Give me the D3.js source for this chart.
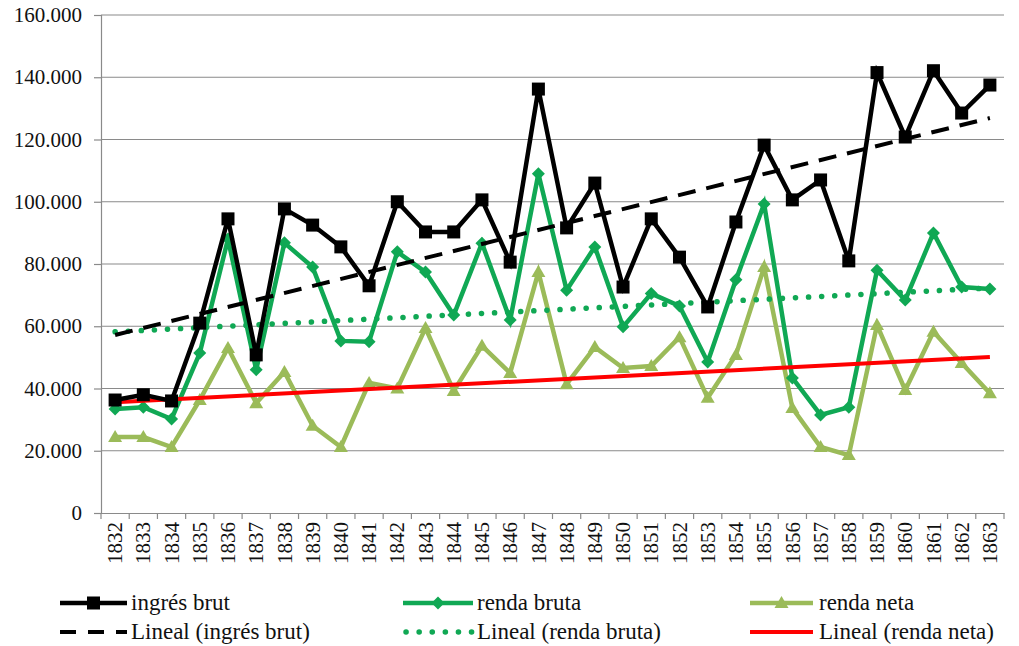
<!DOCTYPE html>
<html><head><meta charset="utf-8">
<script src="https://cdn.jsdelivr.net/npm/d3@7"></script>
<style>body{margin:0;background:#fff}svg{display:block}svg text{font-family:"Liberation Serif","Times New Roman","DejaVu Serif",serif !important;fill:#111}</style>
</head><body>
<svg id="c" width="1019" height="646"></svg>
<script>
const years = [1832,1833,1834,1835,1836,1837,1838,1839,1840,1841,1842,1843,1844,1845,1846,1847,1848,1849,1850,1851,1852,1853,1854,1855,1856,1857,1858,1859,1860,1861,1862,1863];
const ingresBrut = [36300,38000,36000,61000,94500,50800,97700,92500,85500,73000,100000,90300,90300,100600,80600,136200,91600,106000,72600,94500,82200,66200,93500,118200,100600,107000,81000,141500,120800,142100,128500,137500];
const rendaBruta = [33400,34000,30200,51400,88000,46000,86800,79000,55300,55000,83900,77400,63600,86700,62000,109000,71600,85500,59800,70500,66500,48500,74900,99300,43400,31500,34000,78000,68400,90000,72600,72000];
const rendaNeta = [24400,24400,21200,36300,53000,35300,45300,28000,21200,41800,40000,59400,39200,53700,45000,77400,41400,53300,46600,47200,56500,37000,50800,79000,33700,21200,18600,60400,39500,58200,48200,38500];
// Linear trend lines (value at first year, value at last year)
const trendIngres = [57200,126900];
const trendBruta = [58200,72300];
const trendNeta = [35600,50100];
const yTicks = [0,20000,40000,60000,80000,100000,120000,140000,160000];
const legendLabels = ["ingrés brut","renda bruta","renda neta","Lineal (ingrés brut)","Lineal (renda bruta)","Lineal (renda neta)"];

const svg = d3.select("#c");
const L=101, R=1004, T=15, B=513;
const SERIF = '"Liberation Serif","Times New Roman","DejaVu Serif",serif';
const x = d3.scaleBand().domain(years).range([L,R]);
const y = d3.scaleLinear().domain([0,160000]).range([B,T]);
const cx = d => x(d)+x.bandwidth()/2;
const fmt = v => v===0 ? "0" : d3.format(",")(v).replace(/,/g,".");

// gridlines
svg.append("g").selectAll("line").data(yTicks.filter(d=>d>0)).join("line")
  .attr("x1",L).attr("x2",R).attr("y1",d=>y(d)).attr("y2",d=>y(d))
  .attr("stroke","#8a8a8a").attr("stroke-width",1.2);

// y axis
const ya = svg.append("g").attr("transform",`translate(${L},0)`)
  .call(d3.axisLeft(y).tickValues(yTicks).tickFormat(fmt).tickSize(7).tickPadding(12));
ya.attr("font-family",SERIF);
ya.select(".domain").attr("stroke","#8a8a8a").attr("stroke-width",1.2);
ya.selectAll(".tick line").attr("stroke","#8a8a8a").attr("stroke-width",1.2);
ya.selectAll("text").attr("font-family",SERIF).style("font-size","21px").attr("fill","#111");

// x axis
const xa = svg.append("g").attr("transform",`translate(0,${B})`)
  .call(d3.axisBottom(x).tickSize(0).tickPadding(0));
xa.attr("font-family",SERIF);
xa.select(".domain").attr("stroke","#8a8a8a").attr("stroke-width",1.2);
xa.selectAll(".tick text").attr("transform","rotate(-90)").attr("x",-9).attr("y",0).attr("dy","0.34em")
  .style("text-anchor","end").attr("font-family",SERIF).style("font-size","21px").attr("fill","#111");
const bounds = years.map(d=>x(d)).concat([R]);
svg.append("g").selectAll("line").data(bounds).join("line")
  .attr("x1",d=>d).attr("x2",d=>d).attr("y1",B).attr("y2",B+6)
  .attr("stroke","#8a8a8a").attr("stroke-width",1.2);

const line = d3.line().x((d,i)=>cx(years[i])).y(d=>y(d));
const cBlack="#000", cGreen="#10a854", cOlive="#9bbb59", cRed="#ff0000", cDot="#10a854";

function trend(vals,color,dash,cap,w){
  svg.append("line").attr("x1",cx(years[0])).attr("x2",cx(years[years.length-1]))
    .attr("y1",y(vals[0])).attr("y2",y(vals[1]))
    .attr("stroke",color).attr("stroke-width",w||4).attr("stroke-dasharray",dash).attr("stroke-linecap",cap);
}
function series(vals,color,marker){
  svg.append("path").datum(vals).attr("d",line).attr("fill","none").attr("stroke",color).attr("stroke-width",4.5).attr("stroke-linejoin","miter");
  const g = svg.append("g");
  vals.forEach((v,i)=>drawMarker(g,marker,cx(years[i]),y(v),color));
}
function drawMarker(g,m,px,py,color){
  if(m==="square") g.append("rect").attr("x",px-6.5).attr("y",py-6.5).attr("width",13).attr("height",13).attr("fill",color);
  else if(m==="diamond") g.append("path").attr("d",`M${px},${py-6.5}L${px+6.5},${py}L${px},${py+6.5}L${px-6.5},${py}Z`).attr("fill",color);
  else if(m==="triangle") g.append("path").attr("d",`M${px},${py-7}L${px+7},${py+5}L${px-7},${py+5}Z`).attr("fill",color);
}

series(rendaNeta,cOlive,"triangle");
series(rendaBruta,cGreen,"diamond");
trend(trendBruta,cDot,"0.1 13","round",5.5);
trend(trendNeta,cRed,null,"butt",4);
series(ingresBrut,cBlack,"square");
trend(trendIngres,cBlack,"18 11","butt",4);

// legend
const lg = svg.append("g");
const cols = [{x1:60,x2:127,tx:131},{x1:403,x2:473,tx:477},{x1:750,x2:813,tx:819}];
const rowsY = [603,632];
const items = [
  {c:0,r:0,color:cBlack,marker:"square",dash:null,cap:"butt",w:4.5},
  {c:1,r:0,color:cGreen,marker:"diamond",dash:null,cap:"butt",w:4.5},
  {c:2,r:0,color:cOlive,marker:"triangle",dash:null,cap:"butt",w:4.5},
  {c:0,r:1,color:cBlack,marker:null,dash:"16 12",cap:"butt",w:4},
  {c:1,r:1,color:cDot,marker:null,dash:"0.1 13",cap:"round",w:5.5},
  {c:2,r:1,color:cRed,marker:null,dash:null,cap:"butt",w:4}
];
items.forEach((it,i)=>{
  const col = cols[it.c], yy = rowsY[it.r];
  lg.append("line").attr("x1",col.x1+(it.cap==="round"?3:0)).attr("x2",col.x2).attr("y1",yy).attr("y2",yy)
    .attr("stroke",it.color).attr("stroke-width",it.w).attr("stroke-dasharray",it.dash).attr("stroke-linecap",it.cap);
  if(it.marker) drawMarker(lg,it.marker,(col.x1+col.x2)/2,yy,it.color);
  lg.append("text").attr("x",col.tx).attr("y",yy).attr("dy","0.32em").attr("font-family",SERIF).style("font-size","23px").text(legendLabels[i]);
});
</script>
</body></html>
